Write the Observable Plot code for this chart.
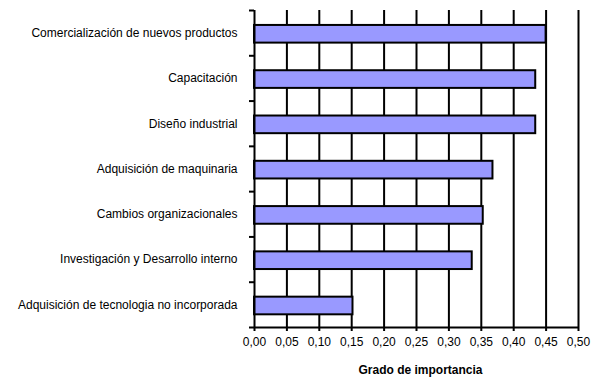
<!DOCTYPE html>
<html>
<head>
<meta charset="utf-8">
<script src="https://cdn.jsdelivr.net/npm/d3@7"></script>
<script src="https://cdn.jsdelivr.net/npm/@observablehq/plot@0.6"></script>
<style>
  html, body { margin: 0; padding: 0; background: #fff; }
  #chart { width: 600px; height: 384px; }
</style>
</head>
<body>
<div id="chart"></div>
<script>
const categories = [
  "Comercialización de nuevos productos",
  "Capacitación",
  "Diseño industrial",
  "Adquisición de maquinaria",
  "Cambios organizacionales",
  "Investigación y Desarrollo interno",
  "Adquisición de tecnologia no incorporada"
];
const values = [0.450, 0.434, 0.434, 0.368, 0.353, 0.336, 0.152];
const xTicks = [0, 0.05, 0.10, 0.15, 0.20, 0.25, 0.30, 0.35, 0.40, 0.45, 0.50];
const xTickLabels = ["0,00", "0,05", "0,10", "0,15", "0,20", "0,25", "0,30", "0,35", "0,40", "0,45", "0,50"];
const xLabel = "Grado de importancia";

const data = categories.map((c, i) => ({ category: c, value: values[i], i }));
const n = categories.length;
const labelPositions = categories.map((c, i) => i + 0.5);
const boundaries = d3.range(0, n + 1);

const font = "'Liberation Sans', Arial, sans-serif";

const chart = Plot.plot({
  width: 600,
  height: 384,
  marginLeft: 254,
  marginRight: 22,
  marginTop: 10,
  marginBottom: 57,
  style: { fontFamily: font, fontSize: "12px", color: "#000", background: "#fff" },
  x: { domain: [0, 0.5] },
  y: { domain: [0, n], reverse: true },
  marks: [
    Plot.ruleX(xTicks.slice(1), { stroke: "#000", strokeWidth: 2 }),
    Plot.rectX(data, {
      x1: 0,
      x2: "value",
      y1: d => d.i + 0.33,
      y2: d => d.i + 0.72,
      fill: "#9999FF",
      stroke: "#000",
      strokeWidth: 2
    }),
    Plot.ruleX([0], { stroke: "#000", strokeWidth: 2 }),
    Plot.ruleY([n], { stroke: "#000", strokeWidth: 2 }),
    Plot.axisX({
      ticks: xTicks,
      tickFormat: d => xTickLabels[xTicks.indexOf(d)],
      tickSize: 4,
      tickPadding: 6,
      strokeWidth: 2,
      label: null,
      fontSize: 12
    }),
    Plot.axisY({
      ticks: boundaries,
      tickSize: 5,
      tickFormat: () => "",
      strokeWidth: 2,
      label: null
    }),
    Plot.axisY({
      ticks: labelPositions,
      tickSize: 0,
      tickPadding: 17,
      tickFormat: d => categories[Math.round(d - 0.5)],
      label: null,
      fontSize: 12
    }),
    Plot.text([xLabel], {
      frameAnchor: "bottom",
      dy: 46,
      dx: 4,
      text: d => d,
      fontWeight: "bold",
      fontSize: 12,
      fill: "#000"
    })
  ]
});
document.getElementById("chart").appendChild(chart);
</script>
</body>
</html>
